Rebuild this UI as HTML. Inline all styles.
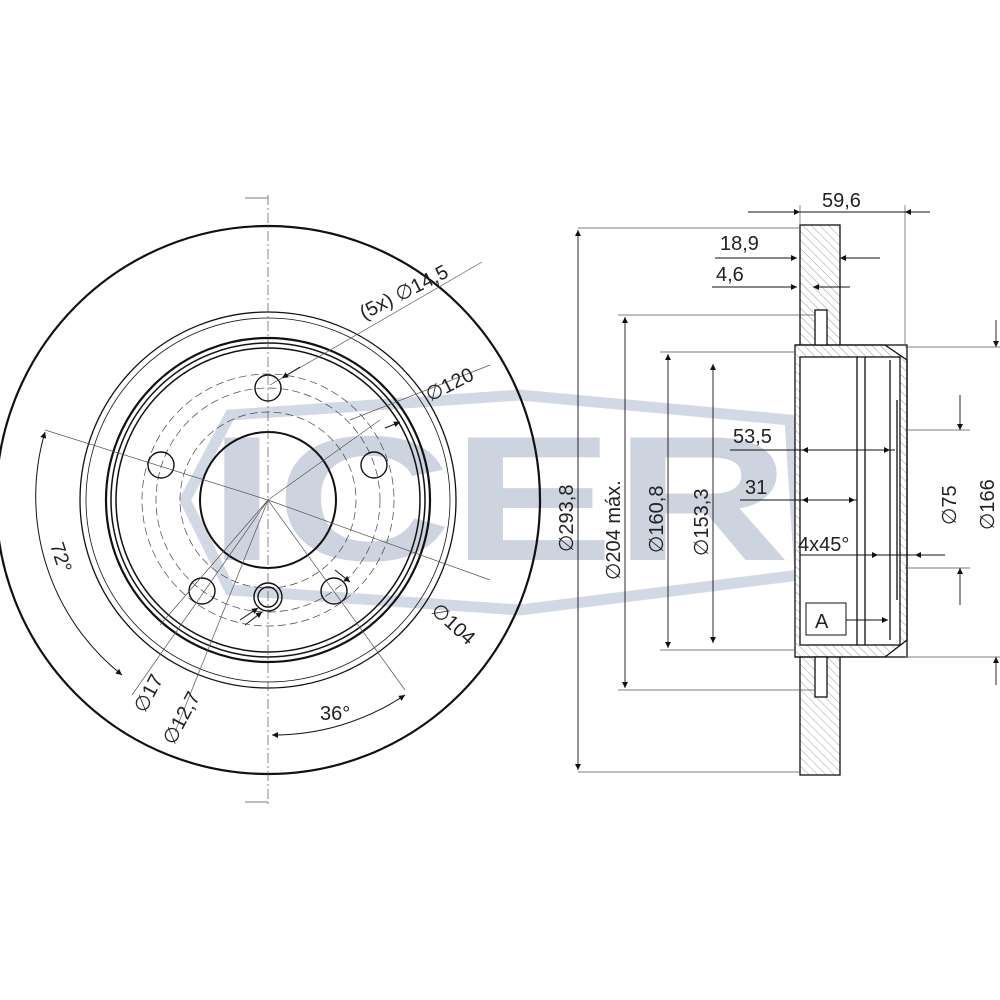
<!DOCTYPE html>
<html><head><meta charset="utf-8"><style>
html,body{margin:0;padding:0;background:#fff;width:1000px;height:1000px;overflow:hidden}
svg{display:block}
text{font-family:"Liberation Sans",sans-serif;fill:#222}
</style></head><body>
<svg width="1000" height="1000" viewBox="0 0 1000 1000" xmlns="http://www.w3.org/2000/svg">
<defs>
<marker id="a" viewBox="0 0 10 10" refX="10" refY="5" markerWidth="9" markerHeight="6" orient="auto-start-reverse" markerUnits="userSpaceOnUse"><path d="M0,0L10,5L0,10z" fill="#111"/></marker>
<pattern id="h" width="6" height="6" patternUnits="userSpaceOnUse" patternTransform="rotate(-45)"><line x1="0" y1="0" x2="0" y2="6" stroke="#777" stroke-width="0.7"/></pattern>
</defs>
<!-- watermark -->
<polygon points="185,500 230,415 520,395 790,420 800,575 520,610 230,590" fill="none" stroke="#d3d9e4" stroke-width="11"/>
<text x="208" y="560" font-size="178" font-weight="bold" textLength="582" lengthAdjust="spacingAndGlyphs" style="fill:#cdd3df">ICER</text>

<!-- LEFT VIEW -->
<g fill="none" stroke="#111">
<ellipse cx="268" cy="500" rx="272" ry="274" stroke-width="2.2"/>
<circle cx="268" cy="500" r="188" stroke-width="1.3"/>
<circle cx="268" cy="500" r="182" stroke-width="0.8"/>
<circle cx="268" cy="500" r="162" stroke-width="2.2"/>
<circle cx="268" cy="500" r="157" stroke-width="1.5"/>
<circle cx="268" cy="500" r="152" stroke-width="1.5"/>
<circle cx="268" cy="500" r="68" stroke-width="2"/>
<circle cx="268" cy="500" r="112" stroke-width="0.7" stroke-dasharray="8,4" stroke="#444"/>
<circle cx="268" cy="500" r="88" stroke-width="0.7" stroke-dasharray="8,4" stroke="#444"/>
<circle cx="268" cy="500" r="126" stroke-width="0.7" stroke-dasharray="8,4" stroke="#444"/>
<g stroke-width="1.4">
<circle cx="268" cy="388" r="13"/><circle cx="374" cy="465" r="13"/><circle cx="161" cy="465" r="13"/>
<circle cx="334" cy="591" r="13"/><circle cx="202" cy="591" r="13"/>
<circle cx="268" cy="597" r="10"/><circle cx="268" cy="597" r="14"/>
</g>
</g>
<g stroke="#555" stroke-width="0.7" fill="none">
<line x1="268" y1="195" x2="268" y2="805" stroke-dasharray="10,3,2,3"/>
<line x1="45" y1="430" x2="268" y2="500"/>
<line x1="268" y1="500" x2="490" y2="580"/>
<line x1="268" y1="500" x2="380" y2="420"/>
<line x1="268" y1="500" x2="160" y2="625"/>
<line x1="268" y1="500" x2="405" y2="690"/>
<line x1="268" y1="500" x2="132" y2="695"/>
<line x1="268" y1="500" x2="175" y2="732"/>
<line x1="270" y1="385" x2="482" y2="262"/>
<line x1="350" y1="420" x2="490" y2="365"/>
<line x1="245" y1="198" x2="268" y2="198"/><line x1="245" y1="802" x2="268" y2="802"/>
</g>
<g stroke="#111" stroke-width="1" fill="none">
<line x1="300" y1="367" x2="282" y2="378" marker-end="url(#a)"/>
<line x1="400" y1="422" x2="385" y2="428" marker-start="url(#a)"/>
<line x1="335" y1="570" x2="350" y2="582" marker-end="url(#a)"/>
<path d="M45,432 A228,228 0 0 0 122,675" marker-start="url(#a)" marker-end="url(#a)"/>
<path d="M272,735 A236,236 0 0 0 405,695" marker-start="url(#a)" marker-end="url(#a)"/>
<line x1="240" y1="620" x2="258" y2="608" marker-end="url(#a)"/>
<line x1="245" y1="625" x2="262" y2="612" marker-end="url(#a)"/>
</g>
<g font-size="20">
<text transform="translate(364,320) rotate(-27)">(5x) ∅14,5</text>
<text transform="translate(430,402) rotate(-27)">∅120</text>
<text transform="translate(430,612) rotate(42)">∅104</text>
<text transform="translate(50,545) rotate(72)">72°</text>
<text transform="translate(145,714) rotate(-62)">∅17</text>
<text transform="translate(174,746) rotate(-62)">∅12,7</text>
<text x="320" y="720">36°</text>
</g>

<!-- RIGHT VIEW -->
<g stroke="#111" stroke-width="1.3">
<rect x="800" y="225" width="40" height="550" fill="url(#h)"/>
<rect x="795" y="345" width="112" height="312" fill="#fff"/>
<path d="M795,345 H885 L907,360 V640 L885,657 H795" fill="url(#h)"/>
<rect x="800" y="357" width="100" height="288" fill="#fff"/>
<line x1="857" y1="357" x2="857" y2="645"/>
<line x1="865" y1="357" x2="865" y2="645"/>
<line x1="890" y1="360" x2="890" y2="640"/>
<line x1="897" y1="400" x2="897" y2="600"/>
<rect x="815" y="310" width="12" height="35" fill="#fff"/>
<rect x="815" y="657" width="12" height="40" fill="#fff"/>
<rect x="806" y="603" width="40" height="32" fill="#fff" stroke-width="1"/>
</g>
<text x="815" y="628" font-size="20">A</text>
<g stroke="#555" stroke-width="0.7">
<line x1="800" y1="205" x2="800" y2="225"/><line x1="905" y1="205" x2="905" y2="345"/>
<line x1="578" y1="228" x2="800" y2="228"/><line x1="578" y1="772" x2="800" y2="772"/>
<line x1="618" y1="315" x2="815" y2="315"/><line x1="618" y1="690" x2="815" y2="690"/>
<line x1="660" y1="352" x2="795" y2="352"/><line x1="660" y1="650" x2="795" y2="650"/>
<line x1="905" y1="347" x2="1000" y2="347"/><line x1="905" y1="657" x2="1000" y2="657"/>
<line x1="905" y1="430" x2="970" y2="430"/><line x1="905" y1="568" x2="970" y2="568"/>
</g>
<g stroke="#111" stroke-width="0.9" fill="none">
<line x1="748" y1="212" x2="800" y2="212" marker-end="url(#a)"/>
<line x1="800" y1="212" x2="905" y2="212"/>
<line x1="930" y1="212" x2="905" y2="212" marker-end="url(#a)"/>
<line x1="715" y1="258" x2="797" y2="258" marker-end="url(#a)"/>
<line x1="880" y1="258" x2="840" y2="258" marker-end="url(#a)"/>
<line x1="712" y1="287" x2="797" y2="287" marker-end="url(#a)"/>
<line x1="850" y1="287" x2="813" y2="287" marker-end="url(#a)"/>
<line x1="578" y1="230" x2="578" y2="770" marker-start="url(#a)" marker-end="url(#a)"/>
<line x1="625" y1="317" x2="625" y2="688" marker-start="url(#a)" marker-end="url(#a)"/>
<line x1="668" y1="354" x2="668" y2="648" marker-start="url(#a)" marker-end="url(#a)"/>
<line x1="713" y1="364" x2="713" y2="643" marker-start="url(#a)" marker-end="url(#a)"/>
<line x1="730" y1="450" x2="895" y2="450"/>
<line x1="820" y1="450" x2="802" y2="450" marker-end="url(#a)"/>
<line x1="872" y1="450" x2="890" y2="450" marker-end="url(#a)"/>
<line x1="740" y1="500" x2="857" y2="500"/>
<line x1="820" y1="500" x2="802" y2="500" marker-end="url(#a)"/>
<line x1="835" y1="500" x2="855" y2="500" marker-end="url(#a)"/>
<line x1="800" y1="555" x2="945" y2="555"/>
<line x1="860" y1="555" x2="878" y2="555" marker-end="url(#a)"/>
<line x1="935" y1="555" x2="915" y2="555" marker-end="url(#a)"/>
<line x1="960" y1="395" x2="960" y2="430" marker-end="url(#a)"/>
<line x1="960" y1="605" x2="960" y2="568" marker-end="url(#a)"/>
<line x1="996" y1="320" x2="996" y2="347" marker-end="url(#a)"/>
<line x1="996" y1="685" x2="996" y2="657" marker-end="url(#a)"/>
<line x1="846" y1="620" x2="888" y2="620" marker-end="url(#a)"/>
</g>
<g font-size="20">
<text x="822" y="207">59,6</text>
<text x="720" y="250">18,9</text>
<text x="716" y="281">4,6</text>
<text x="733" y="443">53,5</text>
<text x="745" y="494">31</text>
<text x="798" y="551">4x45°</text>
<text transform="translate(573,552) rotate(-90)">∅293,8</text>
<text transform="translate(620,580) rotate(-90)">∅204 máx.</text>
<text transform="translate(663,553) rotate(-90)">∅160,8</text>
<text transform="translate(708,556) rotate(-90)">∅153,3</text>
<text transform="translate(956,525) rotate(-90)">∅75</text>
<text transform="translate(994,530) rotate(-90)">∅166</text>
</g>
</svg>
</body></html>
